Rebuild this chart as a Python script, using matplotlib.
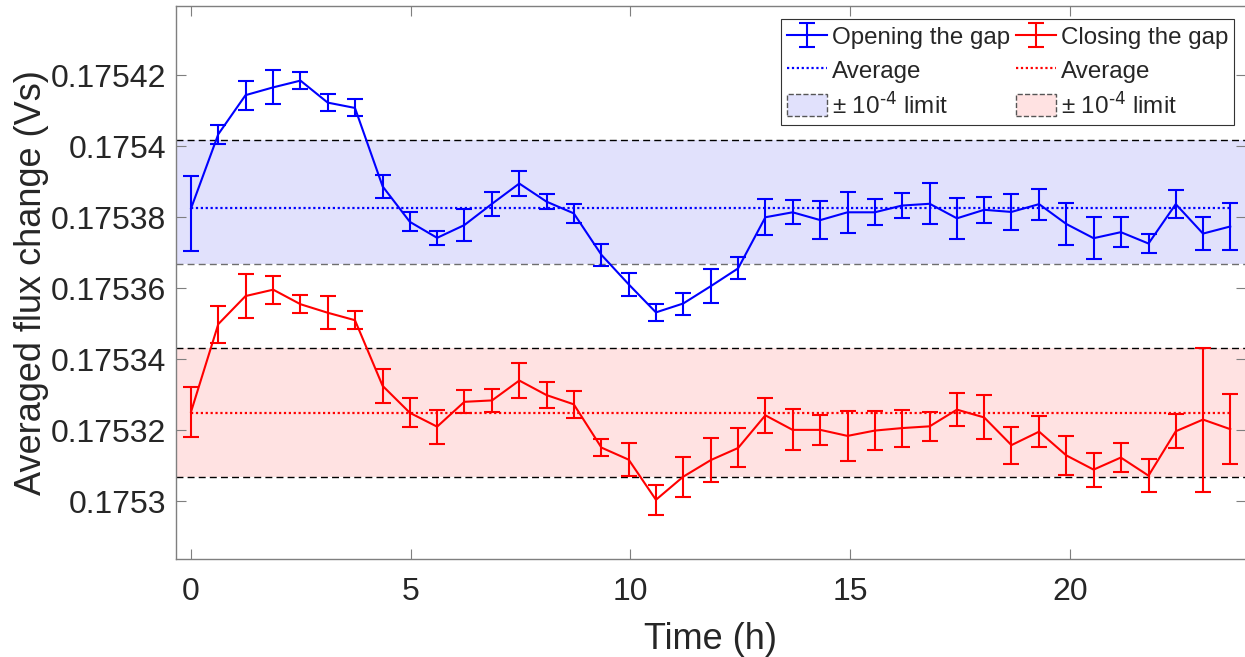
import numpy as np
import matplotlib
matplotlib.use("Agg")
import matplotlib.pyplot as plt
from matplotlib.patches import Patch

plt.rcParams['font.family'] = ['Liberation Sans', 'DejaVu Sans']
plt.rcParams['mathtext.default'] = 'regular'

# Measurement times (h)
time_h = [0.00, 0.62, 1.24, 1.87, 2.49, 3.11, 3.73, 4.36, 4.98, 5.60,
          6.22, 6.85, 7.47, 8.09, 8.71, 9.34, 9.96, 10.58, 11.20, 11.83,
          12.45, 13.07, 13.69, 14.32, 14.94, 15.56, 16.18, 16.81, 17.43, 18.05,
          18.67, 19.30, 19.92, 20.54, 21.16, 21.79, 22.41, 23.03, 23.65]

# Opening the gap: averaged flux change (Vs) and error bars
opening = [0.1753825, 0.1754034, 0.1754144, 0.1754166, 0.1754185, 0.1754123, 0.1754108,
           0.1753887, 0.1753787, 0.1753742, 0.1753778, 0.1753838, 0.1753895, 0.1753844,
           0.1753811, 0.1753694, 0.1753611, 0.1753532, 0.1753557, 0.1753606, 0.1753656,
           0.1753800, 0.1753814, 0.1753792, 0.1753814, 0.1753814, 0.1753833, 0.1753838,
           0.1753797, 0.1753821, 0.1753815, 0.1753837, 0.1753781, 0.1753741, 0.1753758,
           0.1753726, 0.1753837, 0.1753754, 0.1753774]
opening_err_lo = [12.0e-6, 2.7e-6, 4.1e-6, 4.8e-6, 2.3e-6, 2.3e-6, 2.4e-6, 3.3e-6, 2.7e-6,
                  2.0e-6, 4.4e-6, 3.4e-6, 3.6e-6, 2.1e-6, 2.7e-6, 3.0e-6, 3.3e-6, 2.4e-6,
                  3.1e-6, 4.7e-6, 3.1e-6, 5.1e-6, 3.4e-6, 5.3e-6, 5.7e-6, 3.7e-6, 3.5e-6,
                  5.8e-6, 5.7e-6, 3.6e-6, 5.0e-6, 4.4e-6, 5.9e-6, 6.0e-6, 4.3e-6, 2.7e-6,
                  3.9e-6, 4.7e-6, 6.6e-6]
opening_err_hi = [9.1e-6, 2.7e-6, 4.1e-6, 4.8e-6, 2.3e-6, 2.3e-6, 2.4e-6, 3.3e-6, 2.7e-6,
                  2.0e-6, 4.4e-6, 3.4e-6, 3.6e-6, 2.1e-6, 2.7e-6, 3.0e-6, 3.3e-6, 2.4e-6,
                  3.1e-6, 4.7e-6, 3.1e-6, 5.1e-6, 3.4e-6, 5.3e-6, 5.7e-6, 3.7e-6, 3.5e-6,
                  5.8e-6, 5.7e-6, 3.6e-6, 5.0e-6, 4.4e-6, 5.9e-6, 6.0e-6, 4.3e-6, 2.7e-6,
                  3.9e-6, 4.7e-6, 6.6e-6]

# Closing the gap: averaged flux change (Vs) and error bars
closing = [0.1753252, 0.1753499, 0.1753578, 0.1753596, 0.1753555, 0.1753531, 0.1753510,
           0.1753325, 0.1753249, 0.1753210, 0.1753280, 0.1753284, 0.1753340, 0.1753299,
           0.1753273, 0.1753151, 0.1753117, 0.1753004, 0.1753069, 0.1753116, 0.1753150,
           0.1753242, 0.1753201, 0.1753201, 0.1753184, 0.1753199, 0.1753206, 0.1753211,
           0.1753258, 0.1753236, 0.1753158, 0.1753196, 0.1753129, 0.1753089, 0.1753123,
           0.1753072, 0.1753197, 0.1753230, 0.1753203]
closing_err = [7.1e-6, 5.2e-6, 6.2e-6, 3.9e-6, 2.6e-6, 4.6e-6, 2.6e-6, 4.8e-6, 4.1e-6,
               4.8e-6, 3.2e-6, 3.2e-6, 4.8e-6, 3.6e-6, 3.8e-6, 2.3e-6, 4.7e-6, 4.2e-6,
               5.6e-6, 6.1e-6, 5.5e-6, 5.0e-6, 5.8e-6, 4.2e-6, 7.1e-6, 5.4e-6, 5.2e-6,
               4.1e-6, 4.6e-6, 6.2e-6, 5.2e-6, 4.3e-6, 5.5e-6, 4.8e-6, 4.2e-6, 4.7e-6,
               4.8e-6, 20.3e-6, 9.9e-6]

# Tolerance bands (lower, upper) in Vs
opening_band = [0.1753669, 0.1754019]
closing_band = [0.1753068, 0.1753431]

y_ticks = [0.1753, 0.17532, 0.17534, 0.17536, 0.17538, 0.1754, 0.17542]
y_tick_labels = ['0.1753', '0.17532', '0.17534', '0.17536', '0.17538', '0.1754', '0.17542']
x_ticks = [0, 5, 10, 15, 20]

BLUE = (0, 0, 1)
RED = (1, 0, 0)
BLUE_FILL = (0.882, 0.882, 0.988)
RED_FILL = (1.0, 0.886, 0.886)
TEXT = '#262626'
SPINE = '#7f7f7f'

fig = plt.figure(figsize=(12.45, 6.57), dpi=100)
ax = fig.add_axes([0.1411, 0.1496, 0.8594, 0.8417])

ax.set_xlim(-0.35, 24.0)
ax.set_ylim(0.1752838, 0.1754396)

# Tolerance bands
ax.axhspan(opening_band[0], opening_band[1], color=BLUE_FILL, lw=0, zorder=1)
ax.axhspan(closing_band[0], closing_band[1], color=RED_FILL, lw=0, zorder=1)
dash = (0, (5.0, 3.0))
ax.axhline(opening_band[1], color='k', lw=1.0, ls=dash, zorder=2)
ax.axhline(opening_band[0], color='#6e6e6e', lw=1.0, ls=dash, zorder=2)
ax.axhline(closing_band[1], color='k', lw=1.0, ls=dash, zorder=2)
ax.axhline(closing_band[0], color='k', lw=1.0, ls=dash, zorder=2)

# Averages over the run
avg_open = np.mean(opening)
avg_close = np.mean(closing)
l_avg_open, = ax.plot([time_h[0], time_h[-1]], [avg_open, avg_open], color=BLUE,
                      lw=1.6, ls=(0, (1, 1.2)), zorder=3)
l_avg_close, = ax.plot([time_h[0], time_h[-1]], [avg_close, avg_close], color=RED,
                       lw=1.6, ls=(0, (1, 1.2)), zorder=3)

eb_open = ax.errorbar(time_h, opening, yerr=[opening_err_lo, opening_err_hi], color=BLUE,
                      lw=1.5, elinewidth=1.5, capsize=5.5, capthick=1.5, zorder=4)
eb_close = ax.errorbar(time_h, closing, yerr=closing_err, color=RED,
                       lw=1.5, elinewidth=1.5, capsize=5.5, capthick=1.5, zorder=4)

ax.set_xticks(x_ticks)
ax.set_yticks(y_ticks)
ax.set_yticklabels(y_tick_labels)
ax.tick_params(axis='both', which='both', direction='in', length=7.5, width=0.8,
               color=SPINE, labelcolor=TEXT, labelsize=23, top=True, right=True)
ax.tick_params(axis='y', pad=7)
ax.tick_params(axis='x', pad=13)
for s in ax.spines.values():
    s.set_color(SPINE)
    s.set_linewidth(1.0)

ax.set_xlabel('Time (h)', fontsize=26, color=TEXT, labelpad=11)
ax.set_ylabel('Averaged flux change (Vs)', fontsize=26, color=TEXT)
ax.yaxis.set_label_coords(-0.118, 0.5)

limit_label = '\u00b1 10$^{\\text{-4}}$ limit'
p_open = Patch(facecolor=BLUE_FILL, edgecolor='#555555', ls='--', lw=1.0)
p_close = Patch(facecolor=RED_FILL, edgecolor='#555555', ls='--', lw=1.0)
handles = [eb_open, l_avg_open, p_open, eb_close, l_avg_close, p_close]
labels = ['Opening the gap', 'Average', limit_label,
          'Closing the gap', 'Average', limit_label]
leg = ax.legend(handles, labels, ncol=2, loc='upper right',
                bbox_to_anchor=(1234.3 / 1245, 1 - 19 / 657),
                bbox_transform=fig.transFigure, borderaxespad=0,
                fontsize=17.4, frameon=True, fancybox=False, framealpha=1,
                edgecolor='#333333', handlelength=1.65, handleheight=1.0,
                handletextpad=0.2, columnspacing=0.25, labelspacing=0.39,
                borderpad=0.25)
leg.get_frame().set_linewidth(0.8)
for t in leg.get_texts():
    t.set_color(TEXT)

fig.savefig('out.png', dpi=100)
